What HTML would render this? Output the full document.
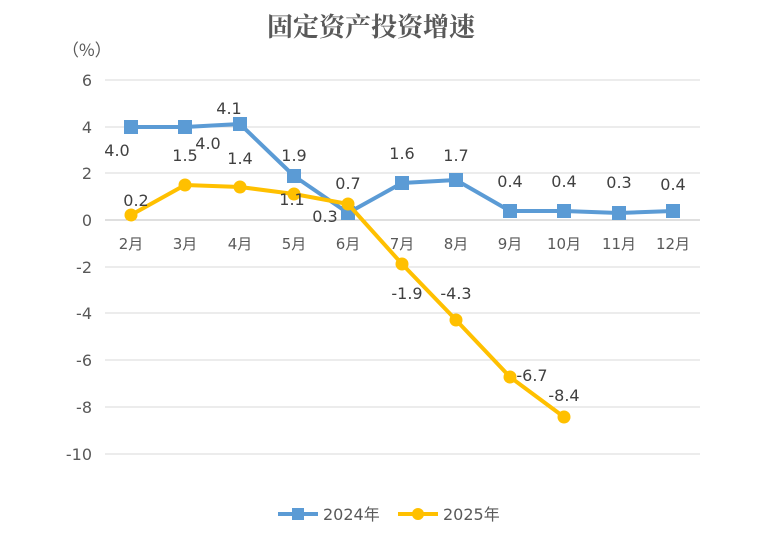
<!DOCTYPE html>
<html><head><meta charset="utf-8"><style>
body{margin:0;background:#fff;}
svg text{font-family:"DejaVu Sans","Liberation Sans","Noto Sans CJK SC",sans-serif;fill:#404040;}
</style></head><body>
<svg width="771" height="544" xmlns="http://www.w3.org/2000/svg">
<rect width="771" height="544" fill="#fff"/>
<text x="371" y="36" text-anchor="middle" style="font-family:'Noto Serif CJK SC','Noto Sans CJK SC',serif;font-size:26px;font-weight:bold;fill:#595959">固定资产投资增速</text>
<text x="62" y="56" style="font-size:17px;fill:#595959;font-family:'Noto Sans CJK SC',sans-serif">（%）</text>
<g stroke="#d9d9d9" stroke-width="1">
<line x1="105" y1="80" x2="700" y2="80"/><line x1="105" y1="127" x2="700" y2="127"/>
<line x1="105" y1="173" x2="700" y2="173"/><line x1="105" y1="267" x2="700" y2="267"/>
<line x1="105" y1="313" x2="700" y2="313"/><line x1="105" y1="360" x2="700" y2="360"/>
<line x1="105" y1="407" x2="700" y2="407"/><line x1="105" y1="454" x2="700" y2="454"/>
</g>
<line x1="105" y1="220" x2="700" y2="220" stroke="#bfbfbf"/>
<g font-size="16" text-anchor="end" style="fill:#595959">
<text x="92" y="86" style="fill:#595959">6</text><text x="92" y="133" style="fill:#595959">4</text>
<text x="92" y="179" style="fill:#595959">2</text><text x="92" y="226" style="fill:#595959">0</text>
<text x="92" y="273" style="fill:#595959">-2</text><text x="92" y="319" style="fill:#595959">-4</text>
<text x="92" y="366" style="fill:#595959">-6</text><text x="92" y="413" style="fill:#595959">-8</text>
<text x="92" y="460" style="fill:#595959">-10</text>
</g>
<g font-size="15" text-anchor="middle" style="font-family:'DejaVu Sans','Noto Sans CJK SC',sans-serif">
<text x="131" y="249" style="fill:#595959">2月</text><text x="185" y="249" style="fill:#595959">3月</text>
<text x="240" y="249" style="fill:#595959">4月</text><text x="294" y="249" style="fill:#595959">5月</text>
<text x="348" y="249" style="fill:#595959">6月</text><text x="402" y="249" style="fill:#595959">7月</text>
<text x="456" y="249" style="fill:#595959">8月</text><text x="510" y="249" style="fill:#595959">9月</text>
<text x="564" y="249" style="fill:#595959">10月</text><text x="619" y="249" style="fill:#595959">11月</text>
<text x="673" y="249" style="fill:#595959">12月</text>
</g>
<polyline fill="none" stroke="#5B9BD5" stroke-width="4" stroke-linejoin="round" points="131,127 185,127 240,124 294,176 348,213 402,183 456,180 510,211 564,211 619,213 673,211"/>
<g fill="#5B9BD5">
<rect x="124" y="120" width="14" height="14"/><rect x="178" y="120" width="14" height="14"/>
<rect x="233" y="117" width="14" height="14"/><rect x="287" y="169" width="14" height="14"/>
<rect x="341" y="206" width="14" height="14"/><rect x="395" y="176" width="14" height="14"/>
<rect x="449" y="173" width="14" height="14"/><rect x="503" y="204" width="14" height="14"/>
<rect x="557" y="204" width="14" height="14"/><rect x="612" y="206" width="14" height="14"/>
<rect x="666" y="204" width="14" height="14"/>
</g>
<polyline fill="none" stroke="#FFC000" stroke-width="4" stroke-linejoin="round" points="131,215 185,185 240,187 294,194 348,204 402,264 456,320 510,377 564,417"/>
<g fill="#FFC000">
<circle cx="131" cy="215" r="6.5"/><circle cx="185" cy="185" r="6.5"/><circle cx="240" cy="187" r="6.5"/>
<circle cx="294" cy="194" r="6.5"/><circle cx="348" cy="204" r="6.5"/><circle cx="402" cy="264" r="6.5"/>
<circle cx="456" cy="320" r="6.5"/><circle cx="510" cy="377" r="6.5"/><circle cx="564" cy="417" r="6.5"/>
</g>
<g font-size="16" text-anchor="middle">
<text x="117" y="156">4.0</text><text x="208" y="149">4.0</text><text x="229" y="114">4.1</text>
<text x="294" y="161">1.9</text><text x="325" y="222">0.3</text><text x="402" y="159">1.6</text>
<text x="456" y="161">1.7</text><text x="510" y="187">0.4</text><text x="564" y="187">0.4</text>
<text x="619" y="188">0.3</text><text x="673" y="190">0.4</text>
<text x="136" y="206">0.2</text><text x="185" y="161">1.5</text><text x="240" y="164">1.4</text>
<text x="292" y="205">1.1</text><text x="348" y="189">0.7</text><text x="407" y="299">-1.9</text>
<text x="456" y="299">-4.3</text><text x="532" y="381">-6.7</text><text x="564" y="401">-8.4</text>
</g>
<line x1="278" y1="514" x2="318" y2="514" stroke="#5B9BD5" stroke-width="4"/>
<rect x="292" y="508" width="12" height="12" fill="#5B9BD5"/>
<text x="323" y="520" font-size="16" style="fill:#595959;font-family:'DejaVu Sans','Noto Sans CJK SC',sans-serif">2024年</text>
<line x1="398" y1="514" x2="438" y2="514" stroke="#FFC000" stroke-width="4"/>
<circle cx="418" cy="514" r="6" fill="#FFC000"/>
<text x="443" y="520" font-size="16" style="fill:#595959;font-family:'DejaVu Sans','Noto Sans CJK SC',sans-serif">2025年</text>
</svg>
</body></html>
